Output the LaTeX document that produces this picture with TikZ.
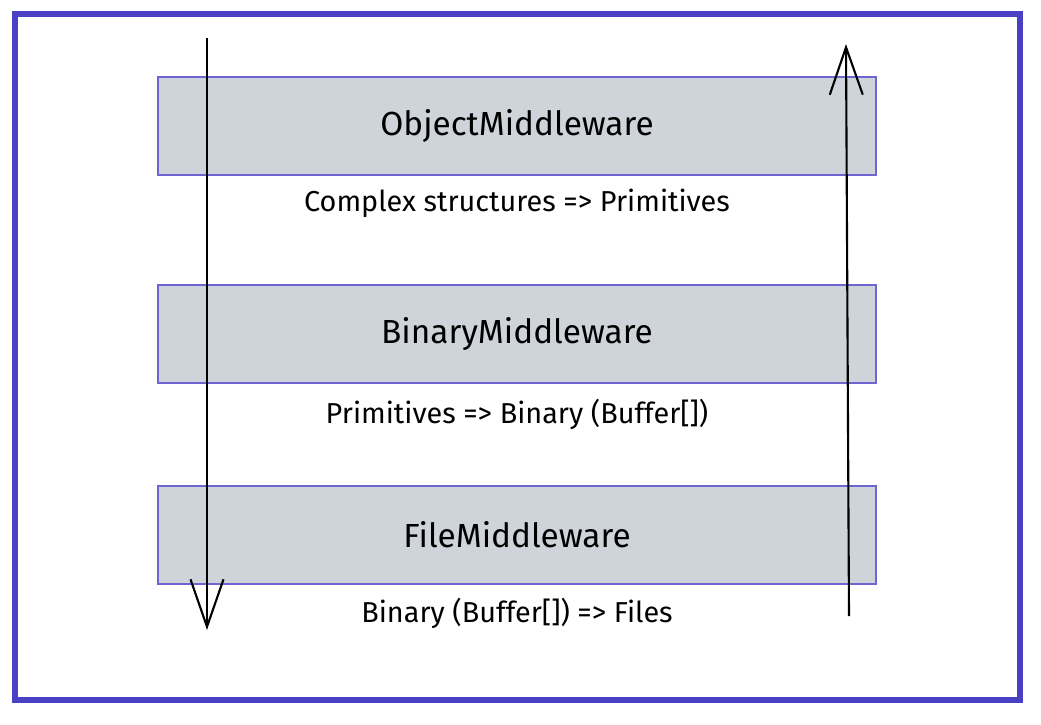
\documentclass[tikz,border=0pt]{standalone}
\usepackage{fontspec}
\setmainfont{Fira Sans}
\usetikzlibrary{arrows.meta}
\definecolor{frameblue}{HTML}{4A40C4}
\definecolor{layergray}{HTML}{CED4DA}
\begin{document}
\begin{tikzpicture}[x=0.02cm, y=-0.02cm,
    layer/.style={rectangle, draw=frameblue!80, fill=layergray, line width=0.9pt,
        minimum width=718*0.02cm, minimum height=98*0.02cm, inner sep=0pt,
        font=\fontsize{19}{22}\selectfont},
    note/.style={font=\fontsize{16.4}{19}\selectfont, inner sep=0pt},
    flow/.style={line width=1.2pt, -{Straight Barb[length=0.95cm, width=0.66cm, line width=1.2pt]}}]
\useasboundingbox (0,0) rectangle (1041,724);
\draw[frameblue, line width=3.4pt] (15,14) rectangle (1020,700);
\node[layer] (obj) at (517,126) {ObjectMiddleware};
\node[layer] (bin) at (517,334) {BinaryMiddleware};
\node[layer] (file) at (517,535) {FileMiddleware};
\node[note] (objnote) at (517,203) {Complex structures => Primitives};
\node[note] (binnote) at (517,414) {Primitives => Binary (Buffer[])};
\node[note] (filenote) at (517,613) {Binary (Buffer[]) => Files};
\coordinate (downtop) at (207,38);
\coordinate (downend) at (207,630);
\coordinate (upstart) at (849,616);
\coordinate (upend) at (846,44);
\draw[flow] (downtop) -- (downend);
\draw[flow] (upstart) -- (upend);
\end{tikzpicture}
\end{document}
